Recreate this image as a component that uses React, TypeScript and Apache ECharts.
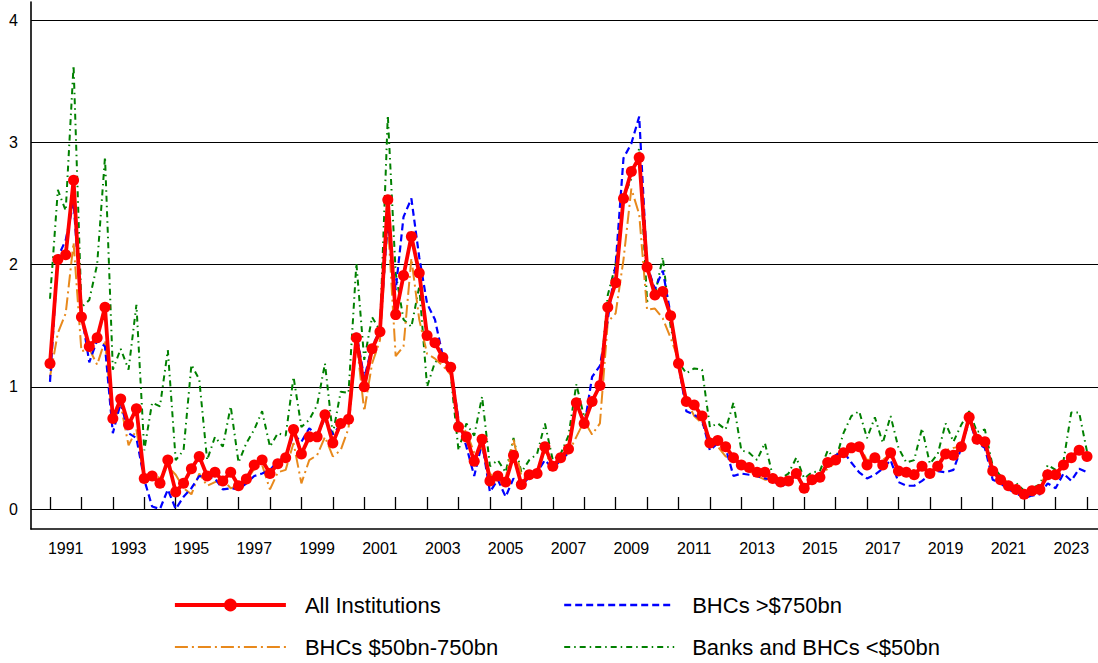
import React, { useEffect, useRef } from "react";
import * as echarts from "echarts";

const FONT = "'Liberation Sans', Arial, Helvetica, sans-serif";

// x-axis tick labels (one band per calendar year; every other year is labelled)
const yearLabels: string[] = [
  "1991", "1992", "1993", "1994", "1995", "1996", "1997", "1998", "1999", "2000",
  "2001", "2002", "2003", "2004", "2005", "2006", "2007", "2008", "2009", "2010",
  "2011", "2012", "2013", "2014", "2015", "2016", "2017", "2018", "2019", "2020",
  "2021", "2022", "2023",
];

// Quarterly observations, 1991:Q1 ... 2024:Q1 (one row per year)
const allInstitutions: number[] = [
  1.19, 2.04, 2.08, 2.69,
  1.57, 1.33, 1.40, 1.65,
  0.74, 0.90, 0.69, 0.82,
  0.25, 0.27, 0.21, 0.40,
  0.14, 0.21, 0.33, 0.43,
  0.27, 0.30, 0.23, 0.30,
  0.19, 0.245, 0.36, 0.40,
  0.29, 0.37, 0.42, 0.65,
  0.45, 0.59, 0.59, 0.77,
  0.54, 0.70, 0.735, 1.40,
  1.00, 1.31, 1.45, 2.53,
  1.59, 1.91, 2.23, 1.93,
  1.42, 1.36, 1.24, 1.16,
  0.67, 0.59, 0.39, 0.57,
  0.23, 0.27, 0.22, 0.44,
  0.20, 0.28, 0.29, 0.51,
  0.35, 0.42, 0.49, 0.87,
  0.70, 0.88, 1.01, 1.65,
  1.85, 2.54, 2.76, 2.875,
  1.98, 1.75, 1.78, 1.58,
  1.19, 0.88, 0.85, 0.76,
  0.54, 0.56, 0.51, 0.42,
  0.36, 0.34, 0.30, 0.30,
  0.25, 0.22, 0.23, 0.29,
  0.17, 0.24, 0.26, 0.38,
  0.40, 0.46, 0.50, 0.51,
  0.36, 0.42, 0.36, 0.46,
  0.31, 0.30, 0.28, 0.35,
  0.29, 0.35, 0.45, 0.44,
  0.51, 0.75, 0.57, 0.55,
  0.31, 0.24, 0.19, 0.16,
  0.12, 0.15, 0.16, 0.28,
  0.28, 0.36, 0.42, 0.48,
  0.43,
];

const bhcsOver750: number[] = [
  1.04, 2.06, 2.20, 2.51,
  1.60, 1.20, 1.38, 1.33,
  0.62, 0.87, 0.62, 0.58,
  0.24, 0.02, 0.00, 0.16,
  0.00, 0.10, 0.17, 0.27,
  0.26, 0.25, 0.16, 0.17,
  0.16, 0.21, 0.27, 0.29,
  0.32, 0.39, 0.43, 0.61,
  0.55, 0.66, 0.61, 0.74,
  0.61, 0.69, 0.74, 1.44,
  1.07, 1.33, 1.46, 2.36,
  1.79, 2.39, 2.54, 2.06,
  1.68, 1.55, 1.25, 1.17,
  0.73, 0.51, 0.27, 0.54,
  0.14, 0.24, 0.10, 0.25,
  0.19, 0.26, 0.30, 0.40,
  0.33, 0.40, 0.46, 0.91,
  0.67, 1.08, 1.17, 1.55,
  2.00, 2.87, 2.99, 3.21,
  1.99, 1.80, 1.95, 1.59,
  1.19, 0.80, 0.77, 0.73,
  0.48, 0.54, 0.50, 0.27,
  0.29, 0.28, 0.27, 0.25,
  0.24, 0.18, 0.22, 0.28,
  0.18, 0.24, 0.27, 0.36,
  0.44, 0.47, 0.38, 0.30,
  0.25, 0.28, 0.33, 0.40,
  0.22, 0.19, 0.19, 0.23,
  0.28, 0.31, 0.30, 0.32,
  0.50, 0.73, 0.54, 0.50,
  0.24, 0.21, 0.16, 0.13,
  0.09, 0.11, 0.12, 0.21,
  0.17, 0.29, 0.23, 0.33,
  0.30,
];

const bhcs50to750: number[] = [
  1.08, 1.44, 1.60, 2.18,
  1.29, 1.31, 1.18, 1.38,
  0.70, 0.85, 0.52, 0.65,
  0.24, 0.30, 0.25, 0.35,
  0.28, 0.17, 0.12, 0.29,
  0.19, 0.22, 0.24, 0.17,
  0.19, 0.23, 0.33, 0.36,
  0.16, 0.30, 0.32, 0.54,
  0.21, 0.40, 0.44, 0.59,
  0.43, 0.48, 0.66, 1.38,
  0.80, 1.19, 1.38, 2.36,
  1.25, 1.33, 2.05, 1.55,
  1.27, 1.23, 1.17, 1.10,
  0.69, 0.63, 0.46, 0.50,
  0.29, 0.22, 0.25, 0.57,
  0.27, 0.25, 0.32, 0.48,
  0.32, 0.39, 0.46, 0.59,
  0.72, 0.61, 0.70, 1.53,
  1.60, 2.04, 2.62, 2.41,
  1.63, 1.64, 1.56, 1.40,
  1.22, 0.89, 0.76, 0.70,
  0.58, 0.51, 0.43, 0.40,
  0.35, 0.31, 0.27, 0.24,
  0.24, 0.23, 0.22, 0.28,
  0.19, 0.22, 0.27, 0.33,
  0.38, 0.44, 0.49, 0.52,
  0.40, 0.41, 0.40, 0.45,
  0.33, 0.32, 0.32, 0.33,
  0.31, 0.36, 0.48, 0.50,
  0.51, 0.76, 0.60, 0.54,
  0.33, 0.27, 0.21, 0.17,
  0.14, 0.15, 0.18, 0.32,
  0.30, 0.36, 0.43, 0.50,
  0.50,
];

const banksUnder50: number[] = [
  1.72, 2.61, 2.44, 3.63,
  1.65, 1.71, 2.00, 2.88,
  1.14, 1.31, 1.14, 1.67,
  0.48, 0.87, 0.84, 1.30,
  0.40, 0.48, 1.18, 1.06,
  0.40, 0.59, 0.51, 0.84,
  0.38, 0.54, 0.65, 0.80,
  0.51, 0.62, 0.60, 1.08,
  0.67, 0.73, 0.85, 1.19,
  0.61, 0.96, 0.95, 2.01,
  1.22, 1.57, 1.46, 3.22,
  1.93, 1.55, 1.49, 1.82,
  1.00, 1.20, 1.25, 1.10,
  0.48, 0.70, 0.60, 0.92,
  0.35, 0.40, 0.30, 0.58,
  0.30, 0.40, 0.45, 0.70,
  0.40, 0.45, 0.60, 1.02,
  0.75, 0.85, 1.02, 1.75,
  2.00, 2.55, 2.70, 2.95,
  1.70, 1.75, 2.06, 1.49,
  1.20, 1.11, 1.15, 1.14,
  0.67, 0.70, 0.65, 0.87,
  0.48, 0.46, 0.40, 0.54,
  0.27, 0.25, 0.29, 0.42,
  0.25, 0.30, 0.31, 0.48,
  0.40, 0.62, 0.76, 0.80,
  0.58, 0.75, 0.54, 0.76,
  0.50, 0.38, 0.40, 0.66,
  0.37, 0.45, 0.70, 0.55,
  0.69, 0.80, 0.63, 0.65,
  0.35, 0.27, 0.20, 0.21,
  0.15, 0.17, 0.20, 0.36,
  0.32, 0.39, 0.79, 0.79,
  0.47,
];

const seriesNames = {
  all: "All Institutions",
  big: "BHCs >$750bn",
  mid: "BHCs $50bn-750bn",
  small: "Banks and BHCs <$50bn",
};

const COLORS = {
  all: "#ff0000",
  big: "#0000ff",
  mid: "#e8891c",
  small: "#008000",
};

// layout (pixels)
const PLOT_LEFT = 31;
const PLOT_WIDTH = 1067;
const FIRST_X = 50; // position of first quarter (start of 1991)
const LAST_X = 1087; // position of last quarter (start of 2024)

export default function App() {
  const ref = useRef<HTMLDivElement>(null);

  useEffect(() => {
    if (!ref.current) return;
    const chart = echarts.init(ref.current, undefined, { renderer: "svg" });

    const n = allInstitutions.length - 1;
    const range = (n * PLOT_WIDTH) / (LAST_X - FIRST_X);
    const xMin = -((FIRST_X - PLOT_LEFT) * range) / PLOT_WIDTH;
    const xMax = xMin + range;

    const toPairs = (arr: number[]) => arr.map((v, i) => [i, v]);

    const hiddenSymbol = { color: "rgba(0,0,0,0)", opacity: 0, borderWidth: 0 };

    const option: any = {
      animation: false,
      backgroundColor: "#ffffff",
      textStyle: { fontFamily: FONT },
      grid: [
        { left: PLOT_LEFT, top: 20, width: PLOT_WIDTH, height: 489 },
        { left: PLOT_LEFT, top: 2, width: PLOT_WIDTH, height: 527 },
        { left: FIRST_X, top: 20, width: LAST_X - FIRST_X, height: 489 },
      ],
      xAxis: [
        { gridIndex: 0, type: "value", min: xMin, max: xMax, show: false },
        {
          gridIndex: 1,
          type: "value",
          min: 0,
          max: 1,
          axisLine: { show: true, onZero: false, lineStyle: { color: "#000", width: 1.6 } },
          axisTick: { show: false },
          axisLabel: { show: false },
          splitLine: { show: false },
        },
        {
          gridIndex: 2,
          type: "category",
          data: yearLabels,
          boundaryGap: true,
          position: "bottom",
          offset: 20,
          axisLine: { show: false },
          axisTick: {
            show: true,
            inside: true,
            length: 12,
            interval: 0,
            lineStyle: { color: "#000", width: 1.3 },
          },
          axisLabel: {
            interval: 1,
            margin: 11,
            color: "#000",
            fontSize: 16,
            fontFamily: FONT,
          },
          splitLine: { show: false },
        },
      ],
      yAxis: [
        {
          gridIndex: 0,
          type: "value",
          min: 0,
          max: 4,
          interval: 1,
          axisLine: { show: false },
          axisTick: { show: false },
          axisLabel: { margin: 13, color: "#000", fontSize: 16, fontFamily: FONT },
          splitLine: { show: true, lineStyle: { color: "#000", width: 1.1 } },
        },
        {
          gridIndex: 1,
          type: "value",
          min: 0,
          max: 1,
          axisLine: { show: true, onZero: false, lineStyle: { color: "#000", width: 1.6 } },
          axisTick: { show: false },
          axisLabel: { show: false },
          splitLine: { show: false },
        },
        { gridIndex: 2, type: "value", min: 0, max: 4, show: false },
      ],
      legend: [
        {
          left: 173,
          top: 594,
          orient: "vertical",
          padding: 0,
          itemGap: 20,
          itemWidth: 111,
          itemHeight: 16,
          selectedMode: false,
          data: [
            {
              name: seriesNames.all,
              lineStyle: { width: 3.8, color: COLORS.all },
              itemStyle: { color: COLORS.all },
            },
            {
              name: seriesNames.mid,
              lineStyle: { width: 2.2, color: COLORS.mid, type: [13, 4, 2, 4] },
              itemStyle: hiddenSymbol,
            },
          ],
          textStyle: { fontSize: 22, color: "#000", fontFamily: FONT, padding: [0, 0, 0, 14] },
        },
        {
          left: 563,
          top: 594,
          orient: "vertical",
          padding: 0,
          itemGap: 20,
          itemWidth: 110,
          itemHeight: 16,
          selectedMode: false,
          data: [
            {
              name: seriesNames.big,
              lineStyle: { width: 2.4, color: COLORS.big, type: [7, 4] },
              itemStyle: hiddenSymbol,
            },
            {
              name: seriesNames.small,
              lineStyle: { width: 2.2, color: COLORS.small, type: [6, 4, 1.5, 4] },
              itemStyle: hiddenSymbol,
            },
          ],
          textStyle: { fontSize: 22, color: "#000", fontFamily: FONT, padding: [0, 0, 0, 13] },
        },
      ],
      series: [
        {
          name: seriesNames.small,
          type: "line",
          xAxisIndex: 0,
          yAxisIndex: 0,
          data: toPairs(banksUnder50),
          symbol: "none",
          clip: false,
          z: 2,
          lineStyle: { color: COLORS.small, width: 2, type: [6, 4, 1.5, 4] },
          itemStyle: { color: COLORS.small },
        },
        {
          name: seriesNames.mid,
          type: "line",
          xAxisIndex: 0,
          yAxisIndex: 0,
          data: toPairs(bhcs50to750),
          symbol: "none",
          clip: false,
          z: 3,
          lineStyle: { color: COLORS.mid, width: 2, type: [13, 4, 2, 4] },
          itemStyle: { color: COLORS.mid },
        },
        {
          name: seriesNames.big,
          type: "line",
          xAxisIndex: 0,
          yAxisIndex: 0,
          data: toPairs(bhcsOver750),
          symbol: "none",
          clip: false,
          z: 4,
          lineStyle: { color: COLORS.big, width: 2.2, type: [7, 4] },
          itemStyle: { color: COLORS.big },
        },
        {
          name: seriesNames.all,
          type: "line",
          xAxisIndex: 0,
          yAxisIndex: 0,
          data: toPairs(allInstitutions),
          symbol: "circle",
          symbolSize: 11,
          showSymbol: true,
          clip: false,
          z: 5,
          lineStyle: { color: COLORS.all, width: 3.8 },
          itemStyle: { color: COLORS.all, borderWidth: 0 },
        },
      ],
    };

    chart.setOption(option);
    return () => chart.dispose();
  }, []);

  return (
    <div
      ref={ref}
      style={{ position: "fixed", left: 0, top: 0, width: 1098, height: 663, background: "#fff" }}
    />
  );
}
